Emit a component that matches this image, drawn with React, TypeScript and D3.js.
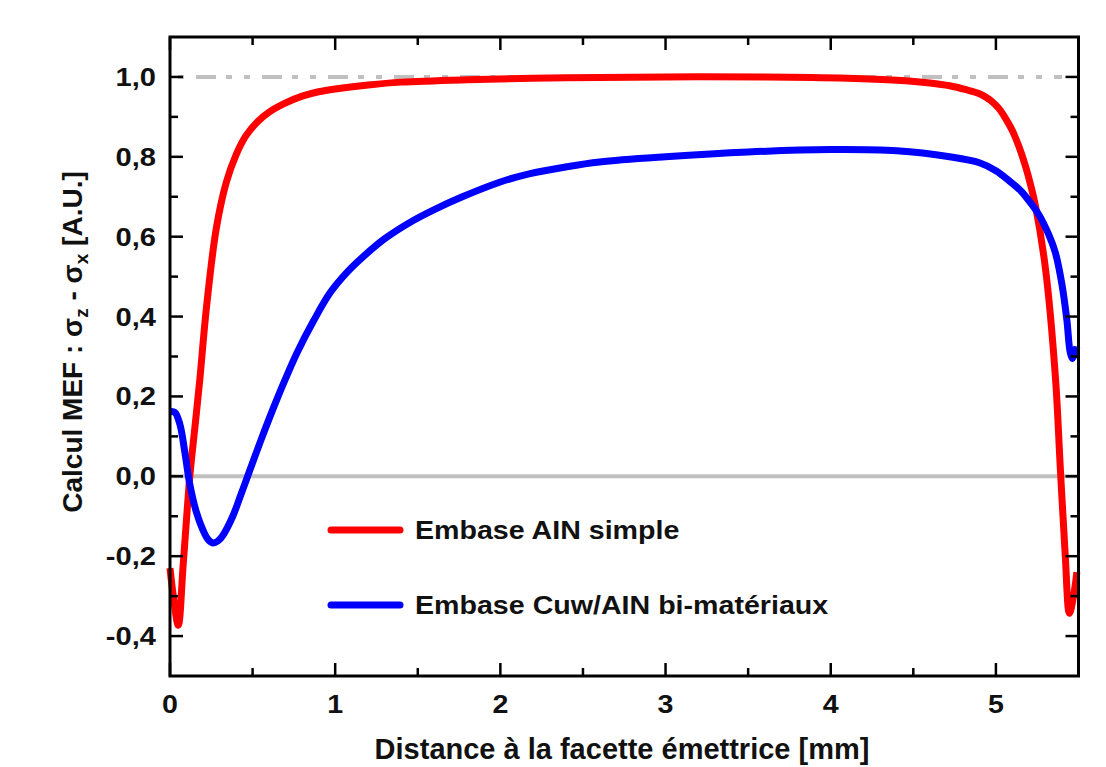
import React from 'react';
import * as d3 from 'd3';

// Values
const redX = [0, 0.02, 0.05, 0.08, 0.12, 0.15, 0.18, 0.22, 0.28, 0.34, 0.40, 0.46, 0.53, 0.6, 0.7, 0.8, 0.9, 1.0, 1.2, 1.4, 1.8, 2.4, 3.0, 3.6, 4.1, 4.4, 4.6, 4.72, 4.82, 4.9, 4.94, 4.98, 5.02, 5.06, 5.1, 5.14, 5.18, 5.21, 5.24, 5.30, 5.36, 5.39, 5.42, 5.445, 5.47, 5.49];
const redY = [-0.23, -0.30, -0.373, -0.22, 0, 0.12, 0.24, 0.42, 0.62, 0.735, 0.805, 0.853, 0.888, 0.912, 0.935, 0.952, 0.963, 0.970, 0.980, 0.987, 0.993, 0.998, 1.0, 1.0, 0.997, 0.992, 0.985, 0.978, 0.968, 0.958, 0.949, 0.937, 0.92, 0.895, 0.865, 0.825, 0.775, 0.73, 0.676, 0.52, 0.25, 0.02, -0.20, -0.343, -0.30, -0.24];

const blueX = [0, 0.03, 0.06, 0.09, 0.12, 0.16, 0.2, 0.23, 0.26, 0.29, 0.32, 0.38, 0.43, 0.47, 0.55, 0.625, 0.7, 0.77, 0.87, 0.97, 1.07, 1.17, 1.3, 1.47, 1.6, 1.77, 2.0, 2.18, 2.4, 2.6, 3.0, 3.5, 4.0, 4.4, 4.72, 4.9, 5.0, 5.08, 5.15, 5.2, 5.26, 5.32, 5.36, 5.4, 5.43, 5.45, 5.465, 5.49];
const blueY = [0.162, 0.16, 0.13, 0.06, -0.02, -0.09, -0.135, -0.158, -0.167, -0.162, -0.148, -0.10, -0.045, 0, 0.09, 0.17, 0.245, 0.31, 0.39, 0.46, 0.51, 0.55, 0.595, 0.64, 0.668, 0.70, 0.737, 0.758, 0.775, 0.787, 0.80, 0.812, 0.818, 0.815, 0.80, 0.785, 0.765, 0.74, 0.715, 0.69, 0.655, 0.605, 0.56, 0.48, 0.39, 0.31, 0.295, 0.325];

const seriesNames = ['Embase AIN simple', 'Embase Cuw/AIN bi-matériaux'];
const seriesColors = ['#ff0000', '#0000ff'];

const xTicks = [0, 1, 2, 3, 4, 5];
const xMinorTicks = [0.5, 1.5, 2.5, 3.5, 4.5];
const yTicks = [-0.4, -0.2, 0, 0.2, 0.4, 0.6, 0.8, 1.0];
const yMinorTicks = [-0.3, -0.1, 0.1, 0.3, 0.5, 0.7, 0.9];
const refLines = [0, 1.0];

const W = 1106, H = 767;
const left = 170, right = 1078.5, top = 37, bottom = 676;
const font = 'Liberation Sans, Arial, sans-serif';

// the reference text is a little wider than Arial, so stretch it sideways
function Label({x, y, anchor, size, sx, children}: any) {
    return (
        <text transform={`translate(${x},${y}) scale(${sx},1)`} textAnchor={anchor}
              fontSize={size} fontWeight="bold" fill="#111">{children}</text>
    );
}

export default function App() {
    const x = d3.scaleLinear().domain([0, 5.5]).range([left, right]);
    const y = d3.scaleLinear().domain([-0.5, 1.1]).range([bottom, top]);
    const fmt = (v: number) => d3.format('.1f')(v).replace('.', ',').replace('−', '-');

    const line = d3.line<[number, number]>()
        .x(d => x(d[0]))
        .y(d => y(d[1]))
        .curve(d3.curveCatmullRom.alpha(0.5));

    const red: [number, number][] = redX.map((v, i) => [v, redY[i]]);
    const blue: [number, number][] = blueX.map((v, i) => [v, blueY[i]]);

    const major = 13, minor = 8;

    return (
        <div style={{position: 'absolute', left: 0, top: 0}}>
            <svg width={W} height={H} style={{display: 'block', background: '#fff'}} fontFamily={font}>
                {/* zero line */}
                <line x1={x(0)} x2={x(5.5)} y1={y(refLines[0])} y2={y(refLines[0])}
                      stroke="#c0c0c0" strokeWidth={4}/>
                {/* reference at 1.0 */}
                <line x1={x(0)} x2={x(5.4)} y1={y(refLines[1])} y2={y(refLines[1])}
                      stroke="#c0c0c0" strokeWidth={4} strokeDasharray="20 10 6 12 6 12"
                      strokeDashoffset={-26}/>

                <path d={line(red) || ''} fill="none" stroke={seriesColors[0]} strokeWidth={7}/>
                <path d={line(blue) || ''} fill="none" stroke={seriesColors[1]} strokeWidth={7}/>

                {/* frame */}
                <rect x={left} y={top} width={right - left} height={bottom - top}
                      fill="none" stroke="#000" strokeWidth={3}/>

                {/* ticks */}
                <g stroke="#000" strokeWidth={2.5}>
                    {xTicks.map(t => (
                        <g key={'xt' + t}>
                            <line x1={x(t)} x2={x(t)} y1={bottom} y2={bottom - major}/>
                            <line x1={x(t)} x2={x(t)} y1={top} y2={top + major}/>
                        </g>
                    ))}
                    {xMinorTicks.map(t => (
                        <g key={'xm' + t}>
                            <line x1={x(t)} x2={x(t)} y1={bottom} y2={bottom - minor}/>
                            <line x1={x(t)} x2={x(t)} y1={top} y2={top + minor}/>
                        </g>
                    ))}
                    {yTicks.map(t => (
                        <g key={'yt' + t}>
                            <line x1={left} x2={left + major} y1={y(t)} y2={y(t)}/>
                            <line x1={right} x2={right - major} y1={y(t)} y2={y(t)}/>
                        </g>
                    ))}
                    {yMinorTicks.map(t => (
                        <g key={'ym' + t}>
                            <line x1={left} x2={left + minor} y1={y(t)} y2={y(t)}/>
                            <line x1={right} x2={right - minor} y1={y(t)} y2={y(t)}/>
                        </g>
                    ))}
                </g>

                {/* tick labels */}
                {xTicks.map(t => (
                    <Label key={'xl' + t} x={x(t)} y={713} anchor="middle" size={26} sx={1.1}>{t}</Label>
                ))}
                {yTicks.map(t => (
                    <Label key={'yl' + t} x={156} y={y(t) + 9} anchor="end" size={26} sx={1.12}>{fmt(t)}</Label>
                ))}

                {/* axis titles */}
                <text x={622} y={759} textAnchor="middle" fontSize={29} fontWeight="bold" fill="#111">
                    Distance à la facette émettrice [mm]
                </text>
                <text transform={`translate(82,342) rotate(-90)`} textAnchor="middle"
                      fontSize={28} fontWeight="bold" fill="#111">
                    Calcul MEF : σ<tspan fontSize={19} dy={6}>z</tspan><tspan dy={-6}> - σ</tspan>
                    <tspan fontSize={19} dy={6}>x</tspan><tspan dy={-6}> [A.U.]</tspan>
                </text>

                {/* legend */}
                {seriesNames.map((name, i) => (
                    <g key={name} transform={`translate(0,${530 + i * 75})`}>
                        <line x1={331} x2={400} y1={0} y2={0} stroke={seriesColors[i]} strokeWidth={7}
                              strokeLinecap="round"/>
                        <Label x={415} y={9} anchor="start" size={26} sx={1.1}>{name}</Label>
                    </g>
                ))}
            </svg>
        </div>
    );
}
